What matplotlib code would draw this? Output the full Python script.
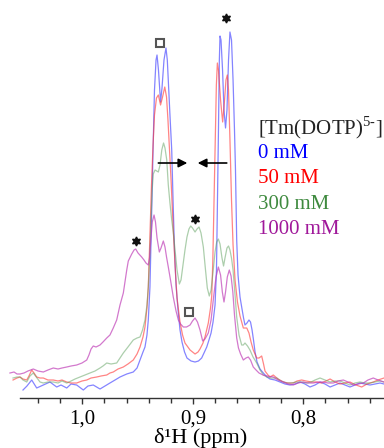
import matplotlib
matplotlib.use("Agg")
import matplotlib.pyplot as plt
from matplotlib.ticker import FixedLocator
import numpy as np

plt.rcParams['font.family'] = ['Liberation Serif', 'DejaVu Serif']
plt.rcParams['mathtext.fontset'] = 'custom'
plt.rcParams['mathtext.rm'] = 'Liberation Serif'

# (ppm, intensity a.u.)
spec_0mM = [
    (1.0537, 8), (1.0501, 12), (1.0458, 18), (1.0413, 10), (1.0353, 13), (1.0293, 16),
    (1.0232, 11), (1.0193, 13), (1.0141, 10), (1.0102, 14), (1.0051, 13), (0.9991, 8),
    (0.9949, 12), (0.9901, 13), (0.9840, 9), (0.9795, 12), (0.9750, 15), (0.9704, 18),
    (0.9659, 21), (0.9598, 24), (0.9539, 26), (0.9505, 30), (0.9478, 38), (0.9451, 46),
    (0.9433, 51), (0.9415, 63), (0.9403, 78), (0.9388, 111), (0.9374, 178), (0.9360, 248),
    (0.9347, 308), (0.9333, 338), (0.9324, 343), (0.9311, 328), (0.9292, 296), (0.9279, 310),
    (0.9261, 338), (0.9243, 350), (0.9231, 338), (0.9220, 313), (0.9207, 283), (0.9191, 248),
    (0.9179, 198), (0.9166, 148), (0.9152, 113), (0.9134, 88), (0.9116, 68), (0.9098, 56),
    (0.9075, 46), (0.9053, 40), (0.9016, 37), (0.8980, 36), (0.8949, 37), (0.8920, 40),
    (0.8899, 45), (0.8874, 51), (0.8854, 58), (0.8835, 65), (0.8817, 76), (0.8799, 93),
    (0.8786, 128), (0.8777, 198), (0.8768, 268), (0.8760, 338), (0.8754, 362), (0.8745, 358),
    (0.8731, 328), (0.8718, 288), (0.8704, 270), (0.8691, 288), (0.8677, 338), (0.8664, 366),
    (0.8650, 358), (0.8636, 318), (0.8623, 268), (0.8614, 228), (0.8603, 158), (0.8591, 123),
    (0.8573, 101), (0.8558, 91), (0.8541, 80), (0.8528, 73), (0.8510, 75), (0.8492, 78),
    (0.8478, 76), (0.8464, 68), (0.8451, 58), (0.8437, 46), (0.8419, 36), (0.8392, 29),
    (0.8362, 25), (0.8329, 21), (0.8302, 19), (0.8256, 18), (0.8211, 16), (0.8166, 14),
    (0.8121, 13), (0.8075, 14), (0.8030, 16), (0.7985, 14), (0.7940, 11), (0.7894, 13),
    (0.7849, 16), (0.7804, 14), (0.7758, 11), (0.7713, 13), (0.7668, 15), (0.7623, 13),
    (0.7578, 11), (0.7532, 13), (0.7487, 15), (0.7442, 14), (0.7397, 13), (0.7351, 14),
    (0.7306, 15), (0.7270, 14),
]

spec_50mM = [
    (1.0627, 18), (1.0591, 20), (1.0564, 21), (1.0537, 19), (1.0503, 18), (1.0483, 22),
    (1.0458, 28), (1.0437, 25), (1.0413, 21), (1.0383, 20), (1.0353, 20), (1.0311, 18),
    (1.0263, 18), (1.0220, 17), (1.0184, 18), (1.0141, 16), (1.0102, 15), (1.0051, 15),
    (1.0003, 17), (0.9960, 18), (0.9921, 20), (0.9870, 21), (0.9831, 22), (0.9779, 23),
    (0.9750, 25), (0.9720, 26), (0.9677, 29), (0.9629, 31), (0.9587, 34), (0.9539, 38),
    (0.9505, 44), (0.9478, 51), (0.9451, 61), (0.9433, 71), (0.9415, 90), (0.9403, 111),
    (0.9388, 163), (0.9374, 213), (0.9360, 253), (0.9347, 283), (0.9329, 300), (0.9312, 303),
    (0.9292, 293), (0.9274, 301), (0.9254, 311), (0.9238, 301), (0.9225, 278), (0.9211, 248),
    (0.9197, 218), (0.9179, 173), (0.9161, 133), (0.9143, 100), (0.9116, 76), (0.9093, 63),
    (0.9071, 55), (0.9025, 48), (0.8980, 44), (0.8953, 46), (0.8935, 49), (0.8908, 55),
    (0.8890, 61), (0.8860, 75), (0.8840, 90), (0.8829, 102), (0.8819, 138), (0.8808, 198),
    (0.8797, 258), (0.8787, 313), (0.8778, 335), (0.8768, 328), (0.8749, 298), (0.8730, 276),
    (0.8713, 298), (0.8700, 318), (0.8688, 323), (0.8677, 308), (0.8664, 258), (0.8650, 198),
    (0.8636, 153), (0.8618, 118), (0.8596, 96), (0.8573, 82), (0.8543, 70), (0.8512, 70),
    (0.8492, 65), (0.8473, 56), (0.8453, 48), (0.8422, 40), (0.8401, 40), (0.8377, 42),
    (0.8360, 34), (0.8347, 27), (0.8320, 23), (0.8302, 21), (0.8272, 23), (0.8229, 19),
    (0.8181, 16), (0.8139, 15), (0.8091, 15), (0.8057, 17), (0.8015, 18), (0.7976, 17),
    (0.7924, 16), (0.7885, 16), (0.7834, 15), (0.7795, 17), (0.7758, 19), (0.7713, 16),
    (0.7668, 14), (0.7623, 15), (0.7578, 16), (0.7523, 13), (0.7472, 11), (0.7424, 14),
    (0.7367, 16), (0.7324, 18), (0.7270, 20),
]

spec_300mM = [
    (1.0627, 20), (1.0591, 21), (1.0564, 21), (1.0537, 18), (1.0503, 16), (1.0474, 22),
    (1.0444, 25), (1.0410, 20), (1.0383, 16), (1.0353, 15), (1.0311, 16), (1.0263, 16),
    (1.0220, 15), (1.0184, 17), (1.0141, 15), (1.0102, 17), (1.0066, 19), (1.0021, 21),
    (0.9976, 23), (0.9931, 25), (0.9885, 27), (0.9840, 30), (0.9813, 32), (0.9779, 35),
    (0.9740, 34), (0.9689, 35), (0.9659, 40), (0.9629, 45), (0.9587, 51), (0.9539, 58),
    (0.9505, 60), (0.9478, 61), (0.9455, 68), (0.9433, 78), (0.9415, 93), (0.9403, 111),
    (0.9394, 133), (0.9388, 145), (0.9377, 183), (0.9368, 208), (0.9358, 224), (0.9342, 228),
    (0.9327, 227), (0.9312, 226), (0.9297, 233), (0.9281, 248), (0.9265, 255), (0.9252, 250),
    (0.9236, 238), (0.9222, 213), (0.9207, 195), (0.9191, 178), (0.9177, 166), (0.9161, 148),
    (0.9143, 128), (0.9122, 114), (0.9107, 118), (0.9089, 133), (0.9071, 148), (0.9053, 161),
    (0.9035, 169), (0.9019, 172), (0.9003, 170), (0.8980, 166), (0.8962, 169), (0.8944, 171),
    (0.8926, 165), (0.8905, 151), (0.8887, 130), (0.8869, 110), (0.8851, 102), (0.8835, 108),
    (0.8817, 126), (0.8799, 146), (0.8784, 156), (0.8769, 159), (0.8754, 154), (0.8736, 140),
    (0.8722, 132), (0.8709, 140), (0.8691, 150), (0.8677, 152), (0.8664, 148), (0.8650, 140),
    (0.8636, 128), (0.8618, 103), (0.8603, 81), (0.8582, 63), (0.8558, 53), (0.8543, 53),
    (0.8528, 55), (0.8505, 52), (0.8483, 48), (0.8455, 41), (0.8422, 35), (0.8392, 28),
    (0.8362, 23), (0.8329, 21), (0.8292, 20), (0.8241, 20), (0.8202, 17), (0.8150, 15),
    (0.8111, 15), (0.8060, 16), (0.8021, 16), (0.7969, 15), (0.7930, 16), (0.7894, 18),
    (0.7849, 20), (0.7804, 18), (0.7758, 16), (0.7713, 17), (0.7668, 17), (0.7623, 15),
    (0.7578, 13), (0.7532, 15), (0.7487, 16), (0.7442, 15), (0.7397, 15), (0.7351, 16),
    (0.7306, 17), (0.7270, 16),
]

spec_1000mM = [
    (1.0655, 25), (1.0618, 26), (1.0591, 24), (1.0564, 24), (1.0528, 25), (1.0492, 27),
    (1.0444, 29), (1.0401, 27), (1.0353, 26), (1.0311, 28), (1.0263, 30), (1.0220, 29),
    (1.0184, 30), (1.0141, 31), (1.0102, 32), (1.0051, 33), (1.0003, 35), (0.9960, 38),
    (0.9940, 43), (0.9921, 49), (0.9901, 52), (0.9876, 51), (0.9840, 53), (0.9813, 56),
    (0.9779, 60), (0.9750, 63), (0.9720, 70), (0.9689, 78), (0.9659, 93), (0.9629, 105),
    (0.9598, 128), (0.9584, 137), (0.9553, 144), (0.9532, 148), (0.9517, 149), (0.9496, 145),
    (0.9463, 141), (0.9442, 138), (0.9424, 135), (0.9403, 133), (0.9392, 140), (0.9380, 158),
    (0.9367, 176), (0.9351, 183), (0.9338, 176), (0.9324, 160), (0.9303, 146), (0.9288, 150),
    (0.9267, 157), (0.9252, 151), (0.9238, 141), (0.9222, 131), (0.9202, 118), (0.9177, 101),
    (0.9152, 87), (0.9131, 78), (0.9111, 74), (0.9086, 71), (0.9057, 71), (0.9025, 73),
    (0.9003, 77), (0.8980, 80), (0.8958, 76), (0.8935, 68), (0.8911, 57), (0.8890, 59),
    (0.8860, 65), (0.8835, 78), (0.8813, 100), (0.8790, 121), (0.8769, 131), (0.8749, 123),
    (0.8733, 106), (0.8718, 96), (0.8704, 106), (0.8688, 121), (0.8670, 128), (0.8654, 122),
    (0.8638, 106), (0.8623, 83), (0.8603, 60), (0.8587, 50), (0.8568, 44), (0.8543, 38),
    (0.8519, 40), (0.8498, 41), (0.8478, 38), (0.8453, 31), (0.8428, 28), (0.8401, 25),
    (0.8365, 23), (0.8329, 22), (0.8272, 21), (0.8229, 18), (0.8181, 16), (0.8139, 14),
    (0.8091, 13), (0.8048, 15), (0.8000, 16), (0.7958, 15), (0.7910, 15), (0.7867, 16),
    (0.7819, 16), (0.7777, 15), (0.7729, 15), (0.7686, 17), (0.7638, 18), (0.7596, 16),
    (0.7548, 13), (0.7505, 14), (0.7457, 15), (0.7415, 18), (0.7367, 20), (0.7324, 18),
    (0.7270, 16),
]

legend_title = "[Tm(DOTP)$^{\\mathrm{5\\text{-}}}$]"
series_labels = ["0 mM", "50 mM", "300 mM", "1000 mM"]
major_ticks = [1.0, 0.9, 0.8]
major_labels = ["1,0", "0,9", "0,8"]
minor_ticks = [1.04, 1.02, 0.98, 0.96, 0.94, 0.92, 0.88, 0.86, 0.84, 0.82, 0.78, 0.76, 0.74]

# annotation anchors (ppm, intensity)
star_marks = [(0.8700, 380), (0.9517, 157), (0.8978, 179)]
square_marks = [(0.9294, 355), (0.9035, 86)]
arrow_right = ((0.9312, 235), (0.9050, 235))
arrow_left = ((0.8693, 235), (0.8956, 235))

line_colors = ["#3333ff", "#ff3333", "#5a9e5a", "#c040b8"]
text_colors = ["#0000ff", "#ff0000", "#3f8a3f", "#a0189a"]
line_alphas = [0.6, 0.6, 0.5, 0.7]

fig = plt.figure(figsize=(3.84, 4.48), dpi=100)
ax = fig.add_axes([0, 0.1116, 1, 0.8884])

for spec, col, a in zip([spec_0mM, spec_50mM, spec_300mM, spec_1000mM], line_colors, line_alphas):
    x, y = zip(*spec)
    ax.plot(x, y, color=col, lw=0.9, alpha=a, solid_joinstyle='round')

for (sx, sy) in star_marks:
    ax.plot(sx, sy, marker=(6, 1, 0), ms=6.5, color='#111111', ls='none')
for (qx, qy) in square_marks:
    ax.plot(qx, qy, marker='s', ms=6, mfc='white', mec='#555555', mew=1.5, ls='none')

for (tail, tip) in [arrow_right, arrow_left]:
    ax.annotate("", xy=tip, xytext=tail,
                arrowprops=dict(arrowstyle='-|>', color='black', lw=1.2,
                                mutation_scale=13, shrinkA=0, shrinkB=0))

ax.text(0.8410, 270, legend_title, fontsize=15, color='#222222', va='center', ha='left')
for i, (lab, col) in enumerate(zip(series_labels, text_colors)):
    ax.text(0.8410, 245 - i * 25.5, lab, fontsize=15, color=col, va='center', ha='left')

ax.set_xlim(1.0745, 0.7270)
ax.set_ylim(0, 398)
for s in ['left', 'right', 'top']:
    ax.spines[s].set_visible(False)
ax.spines['bottom'].set_bounds(0.7270, 1.0564)
ax.spines['bottom'].set_color('#333333')
ax.spines['bottom'].set_linewidth(1.0)
ax.set_yticks([])
ax.xaxis.set_major_locator(FixedLocator(major_ticks))
ax.set_xticklabels(major_labels)
ax.xaxis.set_minor_locator(FixedLocator(minor_ticks))
ax.tick_params(axis='x', which='major', direction='out', length=4.5, width=1, color='#333333',
               labelsize=15, pad=4)
ax.tick_params(axis='x', which='minor', direction='out', length=3.5, width=1, color='#333333')
ax.set_xlabel("δ¹H (ppm)", fontsize=16)
ax.xaxis.label.set_verticalalignment('center')
ax.xaxis.set_label_coords(0.523, -0.100)
ax.patch.set_alpha(0)

fig.savefig("out.png", dpi=100)
